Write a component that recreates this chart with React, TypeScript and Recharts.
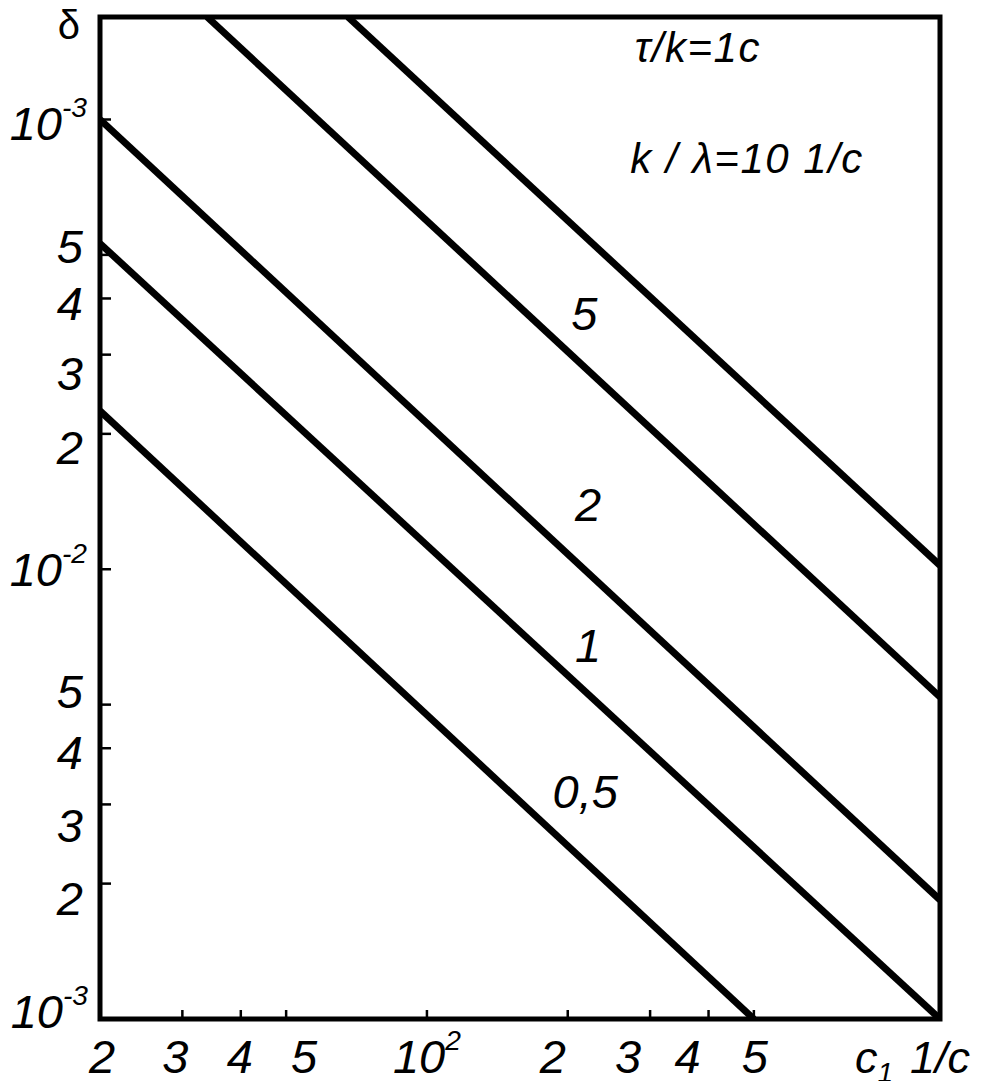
import React from 'react';
import { LineChart, Line, XAxis, YAxis, ReferenceArea, ReferenceDot } from 'recharts';

// c1 (1/c) on x, delta on y, both log
const xTicks = [20, 30, 40, 50, 100, 200, 300, 400, 500];
const xTickLabels = ['2', '3', '4', '5', '10^2', '2', '3', '4', '5'];
const yTicks = [0.001, 0.002, 0.003, 0.004, 0.005, 0.01, 0.02, 0.03, 0.04, 0.05, 0.1];
const yTickLabels = ['10^-3', '2', '3', '4', '5', '10^-2', '2', '3', '4', '5', '10^-3'];

const line05 = [{ c: 20, d: 0.0225 }, { c: 500, d: 0.001 }];
const line1 = [{ c: 20, d: 0.053 }, { c: 1250, d: 0.001 }];
const line2 = [{ c: 20, d: 0.1 }, { c: 1250, d: 0.00184 }];
const line5 = [{ c: 33.9, d: 0.169 }, { c: 1250, d: 0.0052 }];
const line10 = [{ c: 67.8, d: 0.169 }, { c: 1250, d: 0.0102 }];

const curveLabels = [
  { text: '5', c: 217, d: 0.0372 },
  { text: '2', c: 221, d: 0.014 },
  { text: '1', c: 221, d: 0.00678 },
  { text: '0,5', c: 218, d: 0.00321 },
];
const notes = [
  { text: 'τ/k=1c', c: 278, d: 0.134 },
  { text: 'k / λ=10 1/c', c: 272, d: 0.0759 },
];

const FONT = '"Liberation Sans", Arial, sans-serif';
const TICK_SIZE = 47;
// the printed scale is hand drawn, labels sit a bit off the true log positions
const xLabelShift = [2, -7, -1, 18, 0, -15, -22, -21, 1];
const yLabelShift = [0, 14, 21, 4, -14, 0, 13, 18, 5, -9, 0];
const LINE_W = 7;

const powText = (s: string, x: number, y: number, anchor: string, size: number) => {
  const [base, sup] = s.split('^');
  return (
    <text x={x} y={y} textAnchor={anchor} fontFamily={FONT} fontStyle="italic" fontSize={size} fill="#000">
      {base}
      {sup && <tspan dy={-size * 0.5} fontSize={size * 0.6}>{sup}</tspan>}
    </text>
  );
};

const XTick = (props: any) => {
  const { x, y, index } = props;
  return (
    <g>
      {index > 0 && <line x1={x} x2={x} y1={y} y2={y - 9} stroke="#000" strokeWidth={2.5} />}
      {powText(xTickLabels[index], x + xLabelShift[index], y + 54, 'middle', TICK_SIZE)}
    </g>
  );
};

const YTick = (props: any) => {
  const { x, y, index } = props;
  const label = yTickLabels[index];
  const isPow = label.includes('^');
  let tx = x - (isPow ? 13 : 17);
  let ty = y + 17 + yLabelShift[index];
  if (index === 0) {
    tx = x - 12;
    ty = y + 9;
  }
  if (index === yTickLabels.length - 1) ty = y + 21;
  return (
    <g>
      {index > 0 && <line x1={x} x2={x + 11} y1={y} y2={y} stroke="#000" strokeWidth={2.5} />}
      {powText(label, tx, ty, 'end', TICK_SIZE)}
    </g>
  );
};

const App = () => {
  return (
    <div style={{ marginLeft: -8, marginTop: -8, width: 974, height: 1081, background: '#fff' }}>
      <style>{'.recharts-surface{overflow:visible}'}</style>
      <LineChart width={974} height={1081} margin={{ top: 17, right: 34, bottom: 7, left: 0 }}>
        <XAxis
          dataKey="c"
          type="number"
          scale="log"
          domain={[20, 1250]}
          allowDataOverflow
          ticks={xTicks}
          interval={0}
          height={55}
          axisLine={false}
          tickLine={false}
          tickSize={0}
          tickMargin={0}
          tick={<XTick />}
          label={(p: any) => (
            <text x={p.viewBox.x + 755} y={p.viewBox.y + 54} fontFamily={FONT} fontStyle="italic" fontSize={45} fill="#000">
              c<tspan dy={9} fontSize={28}>1</tspan>
              <tspan dy={-9} dx={17}>1/c</tspan>
            </text>
          )}
        />
        <YAxis
          dataKey="d"
          type="number"
          scale="log"
          domain={[0.001, 0.169]}
          allowDataOverflow
          ticks={yTicks}
          interval={0}
          width={100}
          axisLine={false}
          tickLine={false}
          tickSize={0}
          tickMargin={0}
          tick={<YTick />}
          label={(p: any) => (
            <text x={p.viewBox.x + 69} y={p.viewBox.y + 22} textAnchor="middle" fontFamily={FONT} fontSize={40} fill="#000">
              δ
            </text>
          )}
        />
        <ReferenceArea x1={20} x2={1250} y1={0.001} y2={0.169} fill="none" stroke="#000" strokeWidth={5} />
        <Line data={line05} dataKey="d" type="linear" stroke="#000" strokeWidth={LINE_W} dot={false} isAnimationActive={false} />
        <Line data={line1} dataKey="d" type="linear" stroke="#000" strokeWidth={LINE_W} dot={false} isAnimationActive={false} />
        <Line data={line2} dataKey="d" type="linear" stroke="#000" strokeWidth={LINE_W} dot={false} isAnimationActive={false} />
        <Line data={line5} dataKey="d" type="linear" stroke="#000" strokeWidth={LINE_W} dot={false} isAnimationActive={false} />
        <Line data={line10} dataKey="d" type="linear" stroke="#000" strokeWidth={LINE_W} dot={false} isAnimationActive={false} />
        {curveLabels.map((l) => (
          <ReferenceDot
            key={l.text}
            x={l.c}
            y={l.d}
            r={1}
            fill="none"
            stroke="none"
            label={(p: any) => (
              <text
                x={p.viewBox.x + p.viewBox.width / 2}
                y={p.viewBox.y + p.viewBox.height / 2 + 17}
                textAnchor="middle"
                fontFamily={FONT}
                fontStyle="italic"
                fontSize={TICK_SIZE}
                fill="#000"
              >
                {l.text}
              </text>
            )}
          />
        ))}
        {notes.map((n) => (
          <ReferenceDot
            key={n.text}
            x={n.c}
            y={n.d}
            r={1}
            fill="none"
            stroke="none"
            label={(p: any) => (
              <text
                x={p.viewBox.x + p.viewBox.width / 2}
                y={p.viewBox.y + p.viewBox.height / 2}
                fontFamily={FONT}
                fontStyle="italic"
                fontSize={42}
                letterSpacing={1.5}
                fill="#000"
              >
                {n.text}
              </text>
            )}
          />
        ))}
      </LineChart>
    </div>
  );
};

export default App;
